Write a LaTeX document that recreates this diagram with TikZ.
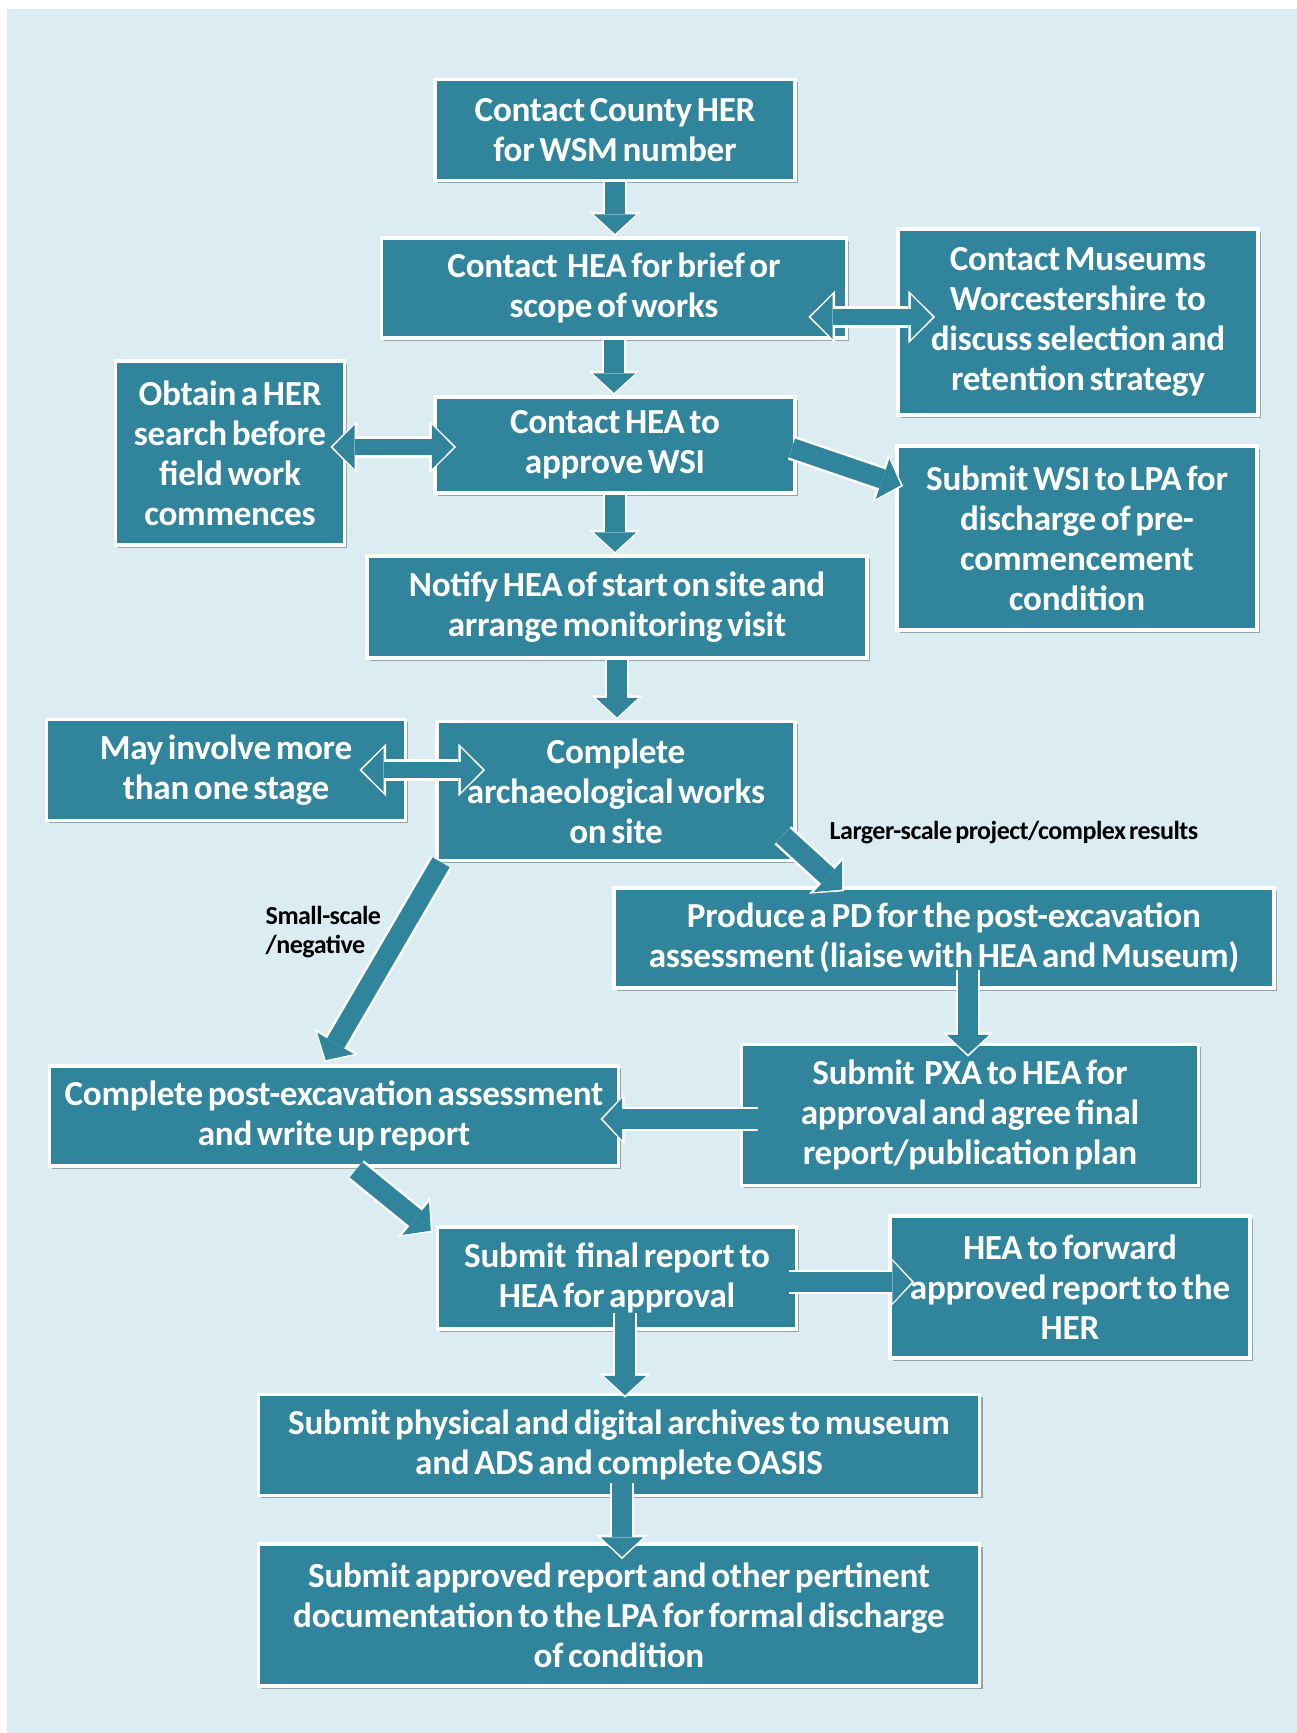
\documentclass[tikz,border=0pt]{standalone}
\usepackage{fontspec}
\setmainfont{Carlito}
\newfontfamily\boitefont[LetterSpace=-0.8,WordSpace=0.6]{Carlito}
\newfontfamily\lblfont[LetterSpace=-2.0,WordSpace=0.6]{Carlito}
\usepackage{tikz}
\usetikzlibrary{arrows.meta,calc,shadows}
\definecolor{cfond}{rgb}{0.86, 0.93, 0.95}
\definecolor{cboite}{rgb}{0.19, 0.52, 0.61}

\begin{document}
\begin{tikzpicture}[x=0.01cm, y=-0.01cm]
	\tikzstyle{box}=[rectangle, fill=cboite, draw=white, line width=1pt, text=white, align=center, inner sep=2pt,
		font=\boitefont\bfseries\fontsize{10}{11.4}\selectfont,
		drop shadow={shadow xshift=0.8pt, shadow yshift=-0.8pt, opacity=0.3, fill=black}]
	\tikzstyle{lbl}=[inner sep=0pt, align=left, text=black, font=\lblfont\bfseries\fontsize{7.4}{8.2}\selectfont]
	\tikzstyle{flow}=[draw=cboite, line width=5.6pt, arrows={-Triangle[width=12pt 0,length=5.5pt 0,line width=0pt 0]}, shorten >=0.7pt,
		preaction={draw=white, line width=7pt, arrows={-Triangle[width=14.5pt 0,length=6.9pt 0,line width=0pt 0]}, shorten >=0pt}]
	\tikzstyle{flowboth}=[draw=cboite, line width=4.8pt, arrows={Triangle[width=12.5pt 0,length=6.2pt 0,line width=0pt 0]-Triangle[width=12.5pt 0,length=6.2pt 0,line width=0pt 0]}, shorten >=0.7pt, shorten <=0.7pt,
		preaction={draw=white, line width=6.2pt, arrows={Triangle[width=15pt 0,length=7.6pt 0,line width=0pt 0]-Triangle[width=15pt 0,length=7.6pt 0,line width=0pt 0]}, shorten >=0pt, shorten <=0pt}]

	% FOND
	\useasboundingbox (0,0) rectangle (1297,1733);
	\fill[white] (0,0) rectangle (1297,1733);
	\fill[cfond] (7,9) rectangle (1297,1733);

	% BOITES
	\node[box, minimum width=3.60cm, minimum height=1.01cm] (HER) at (615,130) {Contact County HER\\for WSM number};
	\node[box, minimum width=4.65cm, minimum height=1.00cm] (BRIEF) at (614,288) {Contact~ HEA for brief or\\scope of works};
	\node[box, minimum width=3.60cm, minimum height=1.86cm] (MUSEUMS) at (1078,322) {Contact Museums\\Worcestershire~ to\\discuss selection and\\retention strategy};
	\node[box, minimum width=2.29cm, minimum height=1.84cm] (SEARCH) at (230,453) {Obtain a HER\\search before\\field work\\commences};
	\node[box, minimum width=3.60cm, minimum height=0.96cm] (WSI) at (615,445) {Contact HEA to\\approve WSI};
	\node[box, minimum width=3.60cm, minimum height=1.84cm] (LPA) at (1077,538) {Submit WSI to LPA for\\discharge of pre-\\commencement\\condition};
	\node[box, minimum width=5.00cm, minimum height=1.02cm] (NOTIFY) at (617,607) {Notify HEA of start on site and\\arrange monitoring visit};
	\node[box, minimum width=3.59cm, minimum height=1.01cm] (STAGE) at (226,770) {May involve more\\than one stage};
	\node[box, minimum width=3.58cm, minimum height=1.39cm] (WORKS) at (616,791) {Complete\\archaeological works\\on site};
	\node[box, minimum width=6.60cm, minimum height=1.00cm] (PD) at (944,938) {Produce a PD for the post-excavation\\assessment (liaise with HEA and Museum)};
	\node[box, minimum width=4.57cm, minimum height=1.41cm] (PXA) at (970,1115) {Submit~ PXA to HEA for\\approval and agree final\\report/publication plan};
	\node[box, minimum width=5.69cm, minimum height=1.00cm] (POSTEX) at (334,1116) {Complete post-excavation assessment\\and write up report};
	\node[box, minimum width=3.59cm, minimum height=1.02cm] (FINAL) at (617,1278) {Submit~ final report to\\HEA for approval};
	\node[box, minimum width=3.60cm, minimum height=1.42cm] (FORWARD) at (1070,1287) {HEA to forward\\approved report to the\\HER};
	\node[box, minimum width=7.21cm, minimum height=1.01cm] (ARCHIVES) at (619,1445) {Submit physical and digital archives to museum\\and ADS and complete OASIS};
	\node[box, minimum width=7.21cm, minimum height=1.42cm] (DISCHARGE) at (619,1615) {Submit approved report and other pertinent\\documentation to the LPA for formal discharge\\of condition};

	% ETIQUETTES
	\node[lbl, anchor=west] (SMALL) at (265,932) {Small-scale\\/negative};
	\node[lbl, anchor=west] (LARGER) at (829,833) {Larger-scale project/complex results};

	% FLECHES
	\path
		(HER.south) edge[flow] (HER.south |- BRIEF.north)
		(BRIEF.south) edge[flow] (BRIEF.south |- WSI.north)
		($(BRIEF.east)+(-40,29)$) edge[flowboth] ($(MUSEUMS.west)+(39,-5)$)
		($(SEARCH.east)+(-16,-6)$) edge[flowboth] ($(WSI.west)+(23,2)$)
		($(WSI.east)+(-5,3)$) edge[flow] ($(LPA.west)+(8,-52)$)
		(WSI.south) edge[flow] (WSI.south |- NOTIFY.north)
		(NOTIFY.south) edge[flow] (NOTIFY.south |- WORKS.north)
		($(STAGE.east)+(-48,0)$) edge[flowboth] ($(WORKS.west)+(50,-21)$)
		($(WORKS.south east)+(-14,-27)$) edge[flow] ($(PD.north west)+(232,5)$)
		($(WORKS.south west)+(6,0)$) edge[flow] ($(POSTEX.north west)+(277,-2)$)
		($(PD.south)+(24,-20)$) edge[flow] ($(PXA.north)+(-2,14)$)
		($(PXA.west)+(18,4)$) edge[flow] ($(POSTEX.east)+(-20,3)$)
		($(POSTEX.south)+(22,2)$) edge[flow] ($(FINAL.north west)+(-3,7)$)
		($(FINAL.east)+(-9,4)$) edge[flow] ($(FORWARD.west)+(26,-5)$)
		($(FINAL.south)+(8,-18)$) edge[flow] ($(ARCHIVES.north)+(6,5)$)
		($(ARCHIVES.south)+(3,-14)$) edge[flow] ($(DISCHARGE.north)+(3,17)$)
	;
\end{tikzpicture}
\end{document}
